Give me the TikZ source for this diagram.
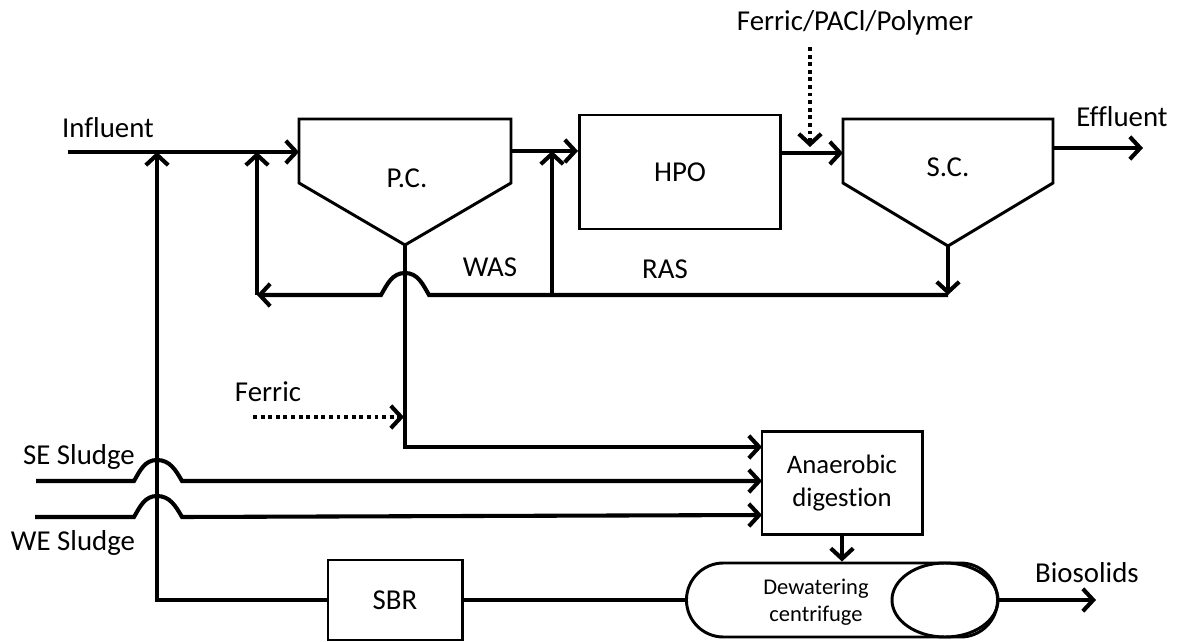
\documentclass[tikz,border=0pt]{standalone}
\usepackage{fontspec}
\setmainfont{Carlito}[Ligatures=NoCommon]
\usetikzlibrary{arrows.meta}
\usetikzlibrary{shapes}
\tikzstyle{box}=[draw, line width=2.1pt, inner sep=0mm, align=center]
\tikzstyle{tank}=[line width=2.1pt, line join=miter]
\tikzstyle{pipe}=[line width=2.9pt]
\tikzstyle{link}=[pipe, -{Straight Barb[length=2.6mm, width=5.6mm]}]
\tikzstyle{dose}=[link, dash pattern=on 2.8pt off 2.6pt]
\tikzstyle{txt}=[inner sep=0mm, align=center]

\begin{document}
\begin{tikzpicture}[x=0.025cm, y=-0.025cm, font=\fontsize{20.5}{24}\selectfont]
    \useasboundingbox (0,0) rectangle (1182,642);

    % clarifiers
    \draw[tank] (299,119) -- (511,119) -- (511,183) -- (405,245) -- (299,183) -- cycle;
    \draw[tank] (843,119) -- (1053,119) -- (1053,183) -- (948,246) -- (843,183) -- cycle;
    \node[txt] (pc) at (407,178) {P.C.};
    \node[txt] (sc) at (948,167) {S.C.};
    \coordinate (pcin) at (299,152);
    \coordinate (pcout) at (511,151);
    \coordinate (pcapex) at (405,245);
    \coordinate (scin) at (843,153);
    \coordinate (scout) at (1053,148);
    \coordinate (scapex) at (948,246);

    % units
    \node[box, minimum width=5.025cm, minimum height=2.85cm] (hpo) at (680,172) {HPO};
    \node[box, minimum width=4cm, minimum height=2.575cm, font=\fontsize{19}{23}\selectfont] (ad) at (842,483) {Anaerobic\\digestion};
    \node[box, minimum width=3.35cm, minimum height=2cm] (sbr) at (395,600) {SBR};
    \node[box, rounded corners=0.925cm, minimum width=7.775cm, minimum height=1.85cm] (cf) at (842,600) {};
    \node[box, ellipse, minimum width=2.65cm, minimum height=1.85cm] (drum) at (945,600) {};
    \node[txt, font=\fontsize{16}{19}\selectfont] (cftext) at (816,602) {Dewatering\\centrifuge};

    % labels
    \node[txt] (influent) at (108,128) {Influent};
    \node[txt] (chem) at (855,23) {Ferric/PACl/Polymer};
    \node[txt] (effluent) at (1122,117) {Effluent};
    \node[txt] (was) at (490,267) {WAS};
    \node[txt] (ras) at (665,269) {RAS};
    \node[txt] (ferric) at (268,392) {Ferric};
    \node[txt] (sesludge) at (79,457) {SE Sludge};
    \node[txt] (wesludge) at (73,543) {WE Sludge};
    \node[txt] (biosolids) at (1087,573) {Biosolids};

    % free ends
    \coordinate (inflow) at (68,152);
    \coordinate (recycle) at (157,152);
    \coordinate (outflow) at (1143,148);
    \coordinate (chemtop) at (810,47);
    \coordinate (chemtip) at (810,147);
    \coordinate (rasend) at (948,295);
    \coordinate (wasend) at (257,295);
    \coordinate (rasup) at (552,295);
    \coordinate (ferric0) at (253,417);
    \coordinate (ferric1) at (404,417);
    \coordinate (se0) at (36,481);
    \coordinate (we0) at (35,517);
    \coordinate (adin1) at (762,447);
    \coordinate (adin2) at (762,481);
    \coordinate (adin3) at (762,515);
    \coordinate (cake) at (1096,600);

    % liquid line
    \draw[link] (inflow) -- (pcin);
    \draw[link] (pcout) -- (pcout -| hpo.west);
    \draw[link] (hpo.east |- scin) -- (scin);
    \draw[link] (scout) -- (outflow);
    \draw[dose] (chemtop) -- (chemtip);

    % return and waste sludge
    \draw[link] (scapex) -- (rasend);
    \draw[link] (rasend) -- (429,295) to[out=120, in=0] (405,273) to[out=180, in=60] (381,295) -- (wasend);
    \draw[link] (wasend) -- (wasend |- inflow);
    \draw[link] (rasup) -- (rasup |- pcout);

    % solids line
    \draw[link] (pcapex) |- (adin1);
    \draw[dose] (ferric0) -- (ferric1);
    \draw[link] (se0) -- (134,481) to[out=60, in=180] (157,460) to[out=0, in=120] (182,481) -- (adin2);
    \draw[link] (we0) -- (134,517) to[out=60, in=180] (157,496) to[out=0, in=120] (182,517) -- (adin3);
    \draw[link] (ad.south) -- (cf.north);
    \draw[pipe] (sbr.east) -- (cf.west);
    \draw[link] (sbr.west) -| (recycle);
    \draw[link] (cf.east) -- (cake);

    \end{tikzpicture}
\end{document}
